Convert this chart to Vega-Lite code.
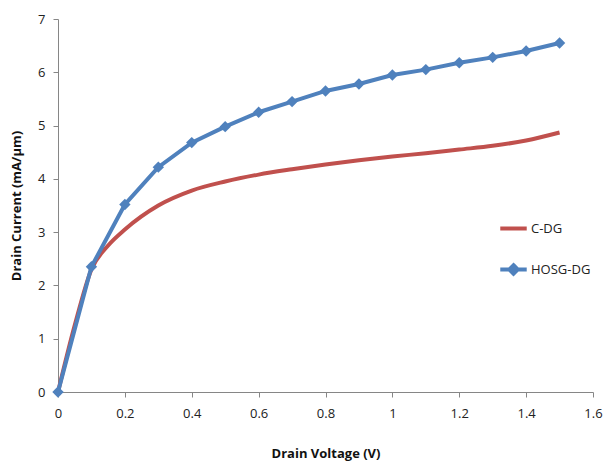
{
  "$schema": "https://vega.github.io/schema/vega-lite/v6.json",
  "width": 535,
  "height": 373,
  "autosize": {"type": "none"},
  "padding": {"left": 58, "top": 19, "right": 16, "bottom": 76},
  "background": "white",
  "config": {
    "view": {"stroke": null},
    "font": "Open Sans",
    "axis": {
      "grid": false,
      "domainColor": "#868686",
      "tickColor": "#868686",
      "tickSize": 5,
      "labelFlush": false,
      "labelFont": "Open Sans",
      "labelFontSize": 13,
      "labelColor": "#222222",
      "titleFont": "Open Sans",
      "titleFontSize": 13,
      "titleFontWeight": "bold",
      "titleColor": "#111111"
    }
  },
  "data": {
    "values": [
      {"v": 0.0, "I": 0.0, "s": "C-DG"},
      {"v": 0.05, "I": 1.25, "s": "C-DG"},
      {"v": 0.1, "I": 2.3, "s": "C-DG"},
      {"v": 0.15, "I": 2.75, "s": "C-DG"},
      {"v": 0.2, "I": 3.05, "s": "C-DG"},
      {"v": 0.3, "I": 3.5, "s": "C-DG"},
      {"v": 0.4, "I": 3.78, "s": "C-DG"},
      {"v": 0.5, "I": 3.95, "s": "C-DG"},
      {"v": 0.6, "I": 4.08, "s": "C-DG"},
      {"v": 0.7, "I": 4.18, "s": "C-DG"},
      {"v": 0.8, "I": 4.27, "s": "C-DG"},
      {"v": 0.9, "I": 4.35, "s": "C-DG"},
      {"v": 1.0, "I": 4.42, "s": "C-DG"},
      {"v": 1.1, "I": 4.48, "s": "C-DG"},
      {"v": 1.2, "I": 4.55, "s": "C-DG"},
      {"v": 1.3, "I": 4.62, "s": "C-DG"},
      {"v": 1.4, "I": 4.72, "s": "C-DG"},
      {"v": 1.5, "I": 4.87, "s": "C-DG"},
      {"v": 0.0, "I": 0.0, "s": "HOSG-DG"},
      {"v": 0.1, "I": 2.35, "s": "HOSG-DG"},
      {"v": 0.2, "I": 3.52, "s": "HOSG-DG"},
      {"v": 0.3, "I": 4.22, "s": "HOSG-DG"},
      {"v": 0.4, "I": 4.68, "s": "HOSG-DG"},
      {"v": 0.5, "I": 4.98, "s": "HOSG-DG"},
      {"v": 0.6, "I": 5.25, "s": "HOSG-DG"},
      {"v": 0.7, "I": 5.45, "s": "HOSG-DG"},
      {"v": 0.8, "I": 5.65, "s": "HOSG-DG"},
      {"v": 0.9, "I": 5.78, "s": "HOSG-DG"},
      {"v": 1.0, "I": 5.95, "s": "HOSG-DG"},
      {"v": 1.1, "I": 6.05, "s": "HOSG-DG"},
      {"v": 1.2, "I": 6.18, "s": "HOSG-DG"},
      {"v": 1.3, "I": 6.28, "s": "HOSG-DG"},
      {"v": 1.4, "I": 6.4, "s": "HOSG-DG"},
      {"v": 1.5, "I": 6.55, "s": "HOSG-DG"}
    ]
  },
  "encoding": {
    "x": {
      "field": "v", "type": "quantitative",
      "scale": {"domain": [0, 1.6], "nice": false},
      "axis": {"values": [0, 0.2, 0.4, 0.6, 0.8, 1, 1.2, 1.4, 1.6], "format": "~g", "title": "Drain Voltage (V)", "labelPadding": 10, "titlePadding": 27}
    },
    "y": {
      "field": "I", "type": "quantitative",
      "scale": {"domain": [0, 7], "nice": false},
      "axis": {"values": [0, 1, 2, 3, 4, 5, 6, 7], "title": "Drain Current (mA/μm)", "labelPadding": 8, "titlePadding": 14}
    },
    "color": {
      "field": "s", "type": "nominal",
      "scale": {"domain": ["C-DG", "HOSG-DG"], "range": ["#C0504D", "#4F81BD"]},
      "legend": {
        "title": null,
        "orient": "none",
        "legendX": 440,
        "legendY": 194,
        "rowPadding": 17,
        "symbolSize": 700,
        "symbolStrokeWidth": 4,
        "labelFont": "Open Sans",
        "labelFontSize": 13,
        "labelColor": "#222222",
        "labelOffset": 2,
        "encode": {
          "symbols": {
            "update": {
              "shape": {"signal": "datum.value === 'C-DG' ? 'M-1,0L1,0' : 'M-1,0L1,0M0,-0.32L0.32,0L0,0.32L-0.32,0Z'"},
              "fill": {"signal": "datum.value === 'C-DG' ? '#C0504D' : '#4F81BD'"},
              "stroke": {"signal": "datum.value === 'C-DG' ? '#C0504D' : '#4F81BD'"},
              "strokeWidth": {"value": 4}
            }
          }
        }
      }
    }
  },
  "layer": [
    {
      "mark": {"type": "line", "strokeWidth": 4, "interpolate": "monotone"},
      "transform": [{"filter": "datum.s === 'C-DG'"}]
    },
    {
      "mark": {"type": "line", "strokeWidth": 4},
      "transform": [{"filter": "datum.s === 'HOSG-DG'"}]
    },
    {
      "mark": {"type": "point", "shape": "diamond", "filled": true, "size": 130, "opacity": 1},
      "transform": [{"filter": "datum.s === 'HOSG-DG'"}]
    }
  ]
}
